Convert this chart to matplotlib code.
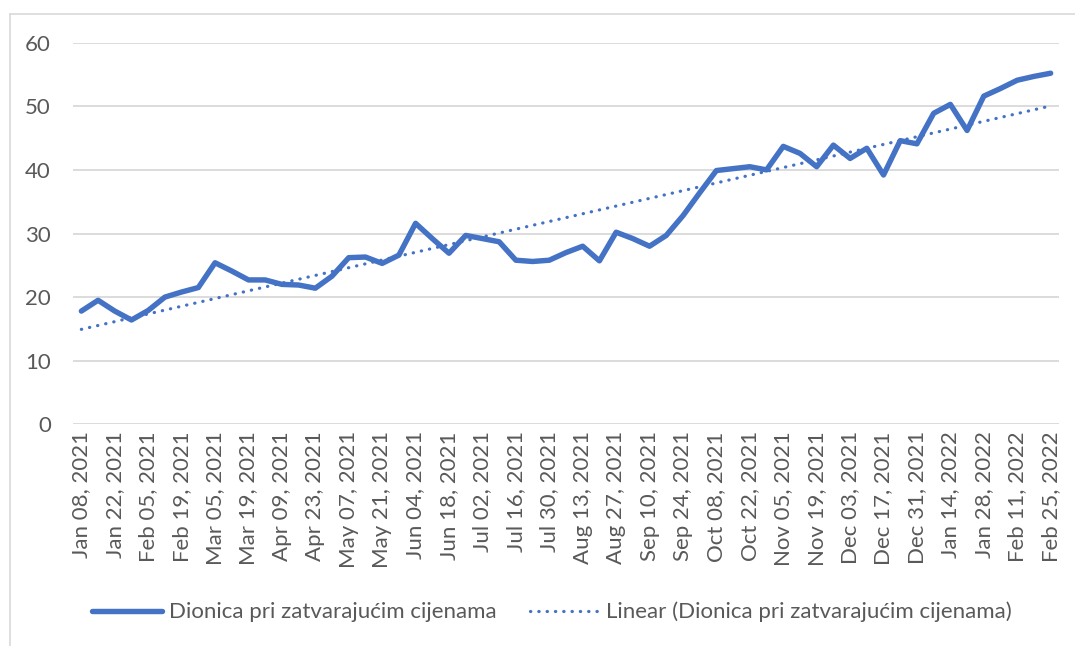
import numpy as np
import matplotlib
matplotlib.use("Agg")
import matplotlib.pyplot as plt
from matplotlib.lines import Line2D

dates = ["Jan 08, 2021", "Jan 15, 2021", "Jan 22, 2021", "Jan 29, 2021", "Feb 05, 2021",
         "Feb 12, 2021", "Feb 19, 2021", "Feb 26, 2021", "Mar 05, 2021", "Mar 12, 2021",
         "Mar 19, 2021", "Mar 26, 2021", "Apr 09, 2021", "Apr 16, 2021", "Apr 23, 2021",
         "Apr 30, 2021", "May 07, 2021", "May 14, 2021", "May 21, 2021", "May 28, 2021",
         "Jun 04, 2021", "Jun 11, 2021", "Jun 18, 2021", "Jun 25, 2021", "Jul 02, 2021",
         "Jul 09, 2021", "Jul 16, 2021", "Jul 23, 2021", "Jul 30, 2021", "Aug 06, 2021",
         "Aug 13, 2021", "Aug 20, 2021", "Aug 27, 2021", "Sep 03, 2021", "Sep 10, 2021",
         "Sep 17, 2021", "Sep 24, 2021", "Oct 01, 2021", "Oct 08, 2021", "Oct 15, 2021",
         "Oct 22, 2021", "Oct 29, 2021", "Nov 05, 2021", "Nov 12, 2021", "Nov 19, 2021",
         "Nov 26, 2021", "Dec 03, 2021", "Dec 10, 2021", "Dec 17, 2021", "Dec 24, 2021",
         "Dec 31, 2021", "Jan 07, 2022", "Jan 14, 2022", "Jan 21, 2022", "Jan 28, 2022",
         "Feb 04, 2022", "Feb 11, 2022", "Feb 18, 2022", "Feb 25, 2022"]

prices = [17.8, 19.5, 17.8, 16.4, 17.9, 20.0, 20.8, 21.5, 25.4, 24.1,
          22.7, 22.7, 22.0, 21.9, 21.4, 23.3, 26.2, 26.3, 25.3, 26.6,
          31.6, 29.2, 26.9, 29.7, 29.2, 28.7, 25.8, 25.6, 25.8, 27.0,
          28.0, 25.7, 30.2, 29.2, 28.0, 29.7, 32.8, 36.4, 39.9, 40.2,
          40.5, 40.0, 43.7, 42.6, 40.5, 43.9, 41.8, 43.4, 39.2, 44.6,
          44.1, 48.9, 50.3, 46.2, 51.6, 52.8, 54.1, 54.7, 55.2]

y_ticks = [0, 10, 20, 30, 40, 50, 60]
series_name = "Dionica pri zatvarajućim cijenama"
trend_name = "Linear (Dionica pri zatvarajućim cijenama)"

blue = "#4472C4"
grid_c = "#D9D9D9"
text_c = "#595959"
plt.rcParams['font.family'] = ['Lato', 'DejaVu Sans']

fig = plt.figure(figsize=(10.75, 6.46), dpi=100)
ax = fig.add_axes([73/1075, 1-424.3/646, (1059-73)/1075, (424.3-42.7)/646])

x = np.arange(len(prices))
coef = np.polyfit(x, prices, 1)
trend = np.polyval(coef, x)

ax.plot(x, prices, color=blue, lw=3.9, solid_joinstyle='round', solid_capstyle='round', zorder=3)
ax.plot(x, trend, color=blue, lw=2.3, linestyle=(0, (0.1, 2.5)), dash_capstyle='round', zorder=2)

ax.set_xlim(-0.5, len(prices) - 0.5)
ax.set_ylim(0, 60)
ax.set_yticks(y_ticks)
ax.set_yticklabels([str(v) for v in y_ticks])
ax.set_xticks(x[::2])
ax.set_xticklabels(dates[::2], rotation=90)
ax.tick_params(axis='both', length=0, labelsize=16, colors=text_c)
ax.tick_params(axis='y', pad=16)
ax.tick_params(axis='x', pad=5)
ax.grid(axis='y', color=grid_c, lw=1.3)
ax.set_axisbelow(True)
for s in ax.spines.values():
    s.set_visible(False)

# chart area border (left and top visible)
fig.add_artist(Line2D([9.5/1075, 9.5/1075], [0, 1-13.5/646], transform=fig.transFigure, color=grid_c, lw=1.2))
fig.add_artist(Line2D([9.5/1075, 1], [1-13.5/646, 1-13.5/646], transform=fig.transFigure, color=grid_c, lw=1.2))

handles = [Line2D([], [], color=blue, lw=3.9, solid_capstyle='round'),
           Line2D([], [], color=blue, lw=2.3, linestyle=(0, (0.1, 2.5)), dash_capstyle='round')]
leg = fig.legend(handles, [series_name, trend_name], loc='center', bbox_to_anchor=(552/1075, 1-612/646),
                 ncol=2, frameon=False, fontsize=16, handlelength=3.15, handletextpad=0.3,
                 columnspacing=1.5)
for t in leg.get_texts():
    t.set_color(text_c)

fig.savefig("out.png", dpi=100)
